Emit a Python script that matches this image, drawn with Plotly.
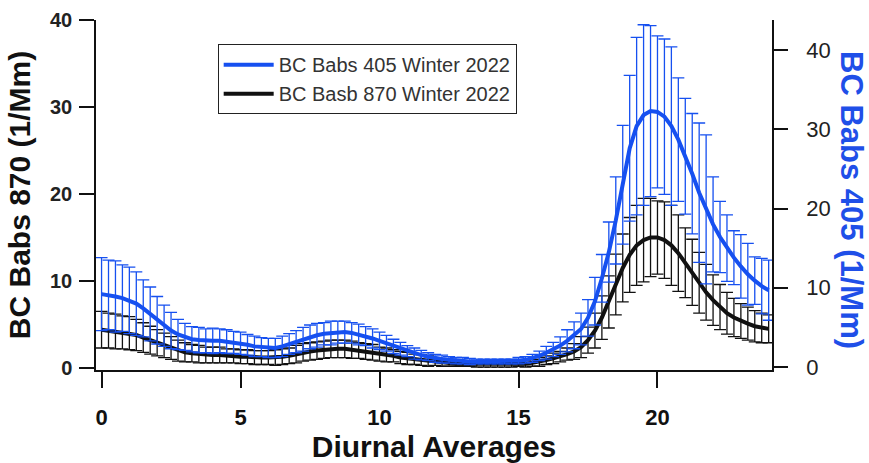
import plotly.graph_objects as go

# ---- data ----
hours = [0, 0.25, 0.5, 0.75, 1, 1.25, 1.5, 1.75, 2, 2.25, 2.5, 2.75, 3, 3.25, 3.5, 3.75,
         4, 4.25, 4.5, 4.75, 5, 5.25, 5.5, 5.75, 6, 6.25, 6.5, 6.75, 7, 7.25, 7.5, 7.75,
         8, 8.25, 8.5, 8.75, 9, 9.25, 9.5, 9.75, 10, 10.25, 10.5, 10.75, 11, 11.25, 11.5, 11.75,
         12, 12.25, 12.5, 12.75, 13, 13.25, 13.5, 13.75, 14, 14.25, 14.5, 14.75, 15, 15.25, 15.5, 15.75,
         16, 16.25, 16.5, 16.75, 17, 17.25, 17.5, 17.75, 18, 18.25, 18.5, 18.75, 19, 19.25, 19.5, 19.75,
         20, 20.25, 20.5, 20.75, 21, 21.25, 21.5, 21.75, 22, 22.25, 22.5, 22.75, 23, 23.25, 23.5, 23.75, 24]

babs405 = [9.2, 9.1, 8.9, 8.7, 8.4, 8.0, 7.4, 6.7, 5.9, 5.2, 4.6, 4.1, 3.8, 3.5, 3.4, 3.3,
           3.3, 3.3, 3.2, 3.1, 3.0, 2.8, 2.6, 2.5, 2.4, 2.4, 2.6, 2.9, 3.2, 3.5, 3.8, 4.0,
           4.2, 4.3, 4.4, 4.4, 4.3, 4.1, 3.9, 3.6, 3.3, 3.0, 2.6, 2.3, 2.0, 1.7, 1.5, 1.3,
           1.1, 1.0, 0.9, 0.8, 0.8, 0.7, 0.7, 0.7, 0.7, 0.7, 0.7, 0.7, 0.8, 0.9, 1.1, 1.4,
           1.8, 2.2, 2.7, 3.3, 4.0, 4.8, 6.2, 8.3, 11.2, 14.5, 18.5, 23.0, 27.6, 30.4, 31.8, 32.3,
           32.2, 31.6, 30.4, 28.7, 26.6, 24.4, 22.0, 19.9, 18.0, 16.4, 15.0, 13.8, 12.7, 11.7, 10.9, 10.2, 9.7]

babs405_err = [4.6, 4.4, 4.5, 4.2, 4.2, 4.0, 3.6, 3.4, 3.0, 2.6, 2.3, 1.9, 1.7, 1.6, 1.6, 1.5,
               1.6, 1.5, 1.5, 1.4, 1.4, 1.3, 1.3, 1.2, 1.2, 1.2, 1.3, 1.3, 1.4, 1.5, 1.5, 1.5,
               1.4, 1.5, 1.4, 1.4, 1.3, 1.3, 1.2, 1.2, 1.1, 1.0, 0.9, 0.8, 0.7, 0.7, 0.6, 0.5,
               0.5, 0.5, 0.4, 0.4, 0.4, 0.4, 0.3, 0.3, 0.3, 0.3, 0.3, 0.3, 0.4, 0.4, 0.5, 0.6,
               0.8, 0.9, 1.1, 1.4, 1.7, 2.0, 2.3, 3.0, 3.0, 3.8, 5.5, 7.5, 9.2, 11.2, 11.4, 10.8,
               9.6, 9.8, 10.0, 7.8, 7.3, 7.6, 8.8, 9.4, 6.0, 4.5, 4.2, 3.4, 4.0, 3.9, 3.0, 3.5, 3.8]

babs870 = [4.4, 4.3, 4.2, 4.1, 4.0, 3.8, 3.5, 3.2, 2.9, 2.6, 2.3, 2.0, 1.8, 1.7, 1.6, 1.5,
           1.5, 1.5, 1.4, 1.4, 1.3, 1.3, 1.2, 1.2, 1.2, 1.2, 1.3, 1.4, 1.6, 1.8, 1.9, 2.0,
           2.1, 2.2, 2.2, 2.2, 2.1, 2.0, 1.9, 1.8, 1.6, 1.5, 1.4, 1.2, 1.1, 1.0, 0.9, 0.8,
           0.7, 0.6, 0.6, 0.5, 0.5, 0.5, 0.4, 0.4, 0.4, 0.4, 0.4, 0.4, 0.5, 0.5, 0.6, 0.7,
           0.9, 1.1, 1.3, 1.6, 1.9, 2.4, 3.2, 4.3, 5.8, 7.6, 9.6, 11.5, 13.0, 14.1, 14.7, 15.0,
           15.0, 14.7, 14.1, 13.2, 12.1, 11.0, 9.8, 8.7, 7.8, 7.0, 6.3, 5.8, 5.4, 5.1, 4.8, 4.6, 4.5]

babs870_err = [2.1, 2.0, 2.0, 1.9, 1.9, 1.8, 1.7, 1.6, 1.5, 1.4, 1.3, 1.2, 1.1, 1.0, 1.0, 0.9,
               0.9, 0.9, 0.8, 0.8, 0.8, 0.8, 0.8, 0.8, 0.8, 0.9, 0.9, 0.9, 1.0, 1.0, 1.0, 1.0,
               1.0, 1.0, 1.0, 1.0, 1.0, 0.9, 0.9, 0.9, 0.8, 0.8, 0.7, 0.7, 0.7, 0.6, 0.6, 0.6,
               0.4, 0.4, 0.4, 0.3, 0.3, 0.3, 0.3, 0.3, 0.3, 0.3, 0.3, 0.3, 0.3, 0.4, 0.4, 0.5,
               0.5, 0.6, 0.6, 0.7, 0.9, 1.2, 1.5, 2.0, 2.5, 3.0, 3.5, 3.9, 4.3, 4.6, 4.8, 4.5,
               4.2, 4.4, 4.6, 4.4, 4.0, 3.8, 3.5, 3.2, 2.9, 2.6, 2.4, 2.2, 2.0, 1.9, 1.8, 1.7, 1.6]

x_ticks = [0, 5, 10, 15, 20]
y_ticks = [0, 10, 20, 30, 40]

name405 = "BC Babs 405 Winter 2022"
name870 = "BC Basb 870 Winter 2022"
left_title = "BC Babs 870 (1/Mm)"
right_title = "BC Babs 405 (1/Mm)"
x_title = "Diurnal Averages"

BLUE = "#1650f0"
BLACK = "#111111"
FONT = "Liberation Sans, Arial, sans-serif"

fig = go.Figure()

fig.add_trace(go.Scatter(
    x=hours, y=babs870, name=name870, mode="lines",
    line=dict(color=BLACK, width=4),
    error_y=dict(type="data", array=babs870_err, visible=True,
                 color=BLACK, thickness=1.3, width=6),
    yaxis="y", legendrank=2,
))

fig.add_trace(go.Scatter(
    x=hours, y=babs405, name=name405, mode="lines",
    line=dict(color=BLUE, width=4),
    error_y=dict(type="data", array=babs405_err, visible=True,
                 color=BLUE, thickness=1.3, width=6),
    yaxis="y2", legendrank=1,
))

fig.update_layout(
    width=869, height=463,
    margin=dict(l=96, r=97, t=20, b=93, autoexpand=False),
    paper_bgcolor="white", plot_bgcolor="white",
    font=dict(family=FONT, color="#111"),
    showlegend=True,
    legend=dict(
        x=0.18, y=0.931, xanchor="left", yanchor="top",
        bgcolor="white", bordercolor="#222", borderwidth=1,
        font=dict(family=FONT, size=20, color="#333"),
        itemwidth=50, tracegroupgap=0,
    ),
    xaxis=dict(
        range=[-0.2, 24.12], tickvals=x_ticks, automargin=False,
        ticks="outside", ticklen=16, tickwidth=1.5, tickcolor="#111",
        showline=True, linecolor="#111", linewidth=1.5,
        showgrid=False, zeroline=False,
        tickfont=dict(family=FONT, size=22, weight="bold", color="#111"),
        ticklabelstandoff=11,
        title=dict(text=x_title, standoff=9,
                   font=dict(family=FONT, size=30, weight="bold", color="#111")),
    ),
    yaxis=dict(
        range=[-0.23, 40], tickvals=y_ticks, automargin=False,
        ticks="outside", ticklen=15, tickwidth=1.5, tickcolor="#111",
        showline=True, linecolor="#111", linewidth=1.5,
        showgrid=False, zeroline=False,
        tickfont=dict(family=FONT, size=20, weight="bold", color="#222"),
        ticklabelstandoff=3,
        title=dict(text=left_title, standoff=11,
                   font=dict(family=FONT, size=30, weight="bold", color="#111")),
    ),
    yaxis2=dict(
        range=[-0.38, 43.8], tickvals=y_ticks, automargin=False,
        overlaying="y", side="right",
        ticks="outside", ticklen=14, tickwidth=1.5, tickcolor="#111",
        showline=True, linecolor="#111", linewidth=1.5,
        showgrid=False, zeroline=False,
        tickfont=dict(family=FONT, size=22, color="#222"),
        ticklabelstandoff=14,
    ),
    annotations=[dict(
        text=right_title, textangle=90, showarrow=False,
        xref="paper", yref="paper", x=(851 - 96) / 676, y=(370 - 200) / 350,
        xanchor="center", yanchor="middle",
        font=dict(family=FONT, size=31, weight="bold", color="#1f4fe8"),
    )],
)

fig.write_html("out.html")
